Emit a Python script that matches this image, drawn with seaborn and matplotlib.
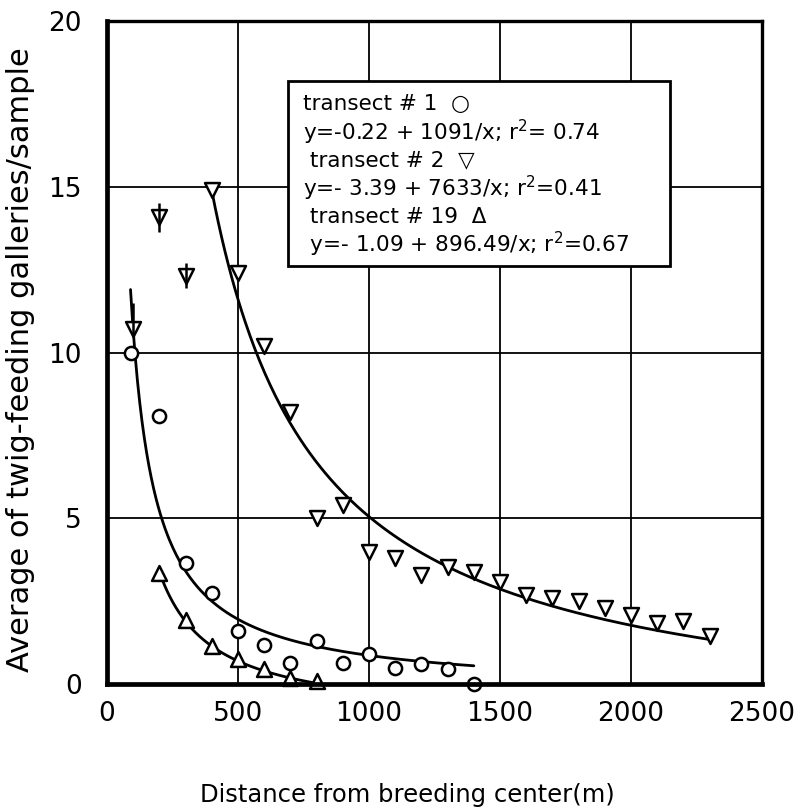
import numpy as np
import pandas as pd
import seaborn as sns
import matplotlib.pyplot as plt
from matplotlib.patches import Rectangle

# transect #1 (circles)
t1_x = [90, 200, 300, 400, 500, 600, 700, 800, 900, 1000, 1100, 1200, 1300, 1400]
t1_y = [10.0, 8.1, 3.65, 2.75, 1.6, 1.2, 0.65, 1.3, 0.65, 0.9, 0.5, 0.6, 0.45, 0.0]

# transect #2 (down triangles)
t2_x = [100, 200, 300, 400, 500, 600, 700, 800, 900, 1000, 1100, 1200,
        1300, 1400, 1500, 1600, 1700, 1800, 1900, 2000, 2100, 2200, 2300]
t2_y = [10.7, 14.1, 12.3, 14.9, 12.4, 10.2, 8.2, 5.0, 5.4, 4.0, 3.8, 3.3,
        3.55, 3.4, 3.1, 2.7, 2.6, 2.5, 2.3, 2.1, 1.85, 1.9, 1.45]
# arrow marks on the first three points
t2_arrow_x = [100, 200, 300]
t2_arrow_top = [11.5, 14.5, 12.7]
t2_arrow_bot = [10.5, 13.65, 11.95]

# transect #19 (up triangles)
t19_x = [200, 300, 400, 500, 600, 700, 800]
t19_y = [3.35, 1.95, 1.15, 0.75, 0.45, 0.2, 0.1]

# fitted curves  y = a + b/x
fit1 = (-0.22, 1091.0)
fit19 = (-1.09, 896.49)
fit2_from = 400  # curve for #2 drawn from least squares over x >= 400

legend_lines = [
    "transect # 1  \u25cb",
    "y=-0.22 + 1091/x; r$^{2}$= 0.74",
    " transect # 2  \u25bd",
    "y=- 3.39 + 7633/x; r$^{2}$=0.41",
    " transect # 19  \u0394",
    " y=- 1.09 + 896.49/x; r$^{2}$=0.67",
]

sns.set_style("white")
plt.rcParams["font.family"] = ["DejaVu Sans"]
plt.rcParams.update({"text.color": "black", "axes.labelcolor": "black",
                     "xtick.color": "black", "ytick.color": "black"})

fig = plt.figure(figsize=(7.98, 8.07), dpi=100)
ax = fig.add_axes([0.134, 0.152, 0.821, 0.822])

df1 = pd.DataFrame({"x": t1_x, "y": t1_y})
df2 = pd.DataFrame({"x": t2_x, "y": t2_y})
df19 = pd.DataFrame({"x": t19_x, "y": t19_y})


def curve(a, b, x0, x1):
    xs = np.linspace(x0, x1, 300)
    return pd.DataFrame({"x": xs, "y": a + b / xs})


sub = df2[df2.x >= fit2_from]
b2, a2 = np.polyfit(1.0 / sub.x.values, sub.y.values, 1)

for c in [curve(*fit1, min(t1_x), max(t1_x)),
          curve(a2, b2, fit2_from, max(t2_x)),
          curve(*fit19, min(t19_x), max(t19_x))]:
    sns.lineplot(data=c, x="x", y="y", ax=ax, color="black", lw=2.0,
                 zorder=3, sort=False)

kw = dict(ax=ax, facecolor="white", edgecolor="black", linewidth=1.8,
          zorder=4, clip_on=False, legend=False)
sns.scatterplot(data=df1, x="x", y="y", marker="o", s=90, **kw)
sns.scatterplot(data=df2, x="x", y="y", marker="v", s=115, **kw)
sns.scatterplot(data=df19, x="x", y="y", marker="^", s=115, **kw)
ax.vlines(t2_arrow_x, t2_arrow_bot, t2_arrow_top, color="black", lw=1.8, zorder=5)

ax.set_xlim(0, 2500)
ax.set_ylim(0, 20)
ax.set_xticks(range(0, 2501, 500))
ax.set_yticks(range(0, 21, 5))
ax.grid(True, color="black", lw=1.3)
ax.set_axisbelow(True)
ax.tick_params(length=0, labelsize=19)
ax.tick_params(axis="x", pad=12)
ax.tick_params(axis="y", pad=18)
for side in ["left", "bottom"]:
    ax.spines[side].set_linewidth(3.4)
for side in ["top", "right"]:
    ax.spines[side].set_linewidth(2.4)
for sp in ax.spines.values():
    sp.set_color("black")
    sp.set_zorder(6)

ax.set_xlabel("Distance from breeding center(m)", fontsize=17.5)
ax.xaxis.set_label_coords(0.458, -0.148)
ax.set_ylabel("Average of twig-feeding galleries/sample", fontsize=22)
ax.yaxis.set_label_coords(-0.11, 0.49)

# legend box
ax.add_patch(Rectangle((0.276, 0.631), 0.584, 0.279, transform=ax.transAxes,
                       facecolor="white", edgecolor="black", lw=2.0, zorder=7))
for i, line in enumerate(legend_lines):
    ax.text(0.3, 0.875 - i * 0.0425, line, transform=ax.transAxes,
            fontsize=15.5, va="center", ha="left", zorder=8)

fig.savefig("out.png", dpi=100)
